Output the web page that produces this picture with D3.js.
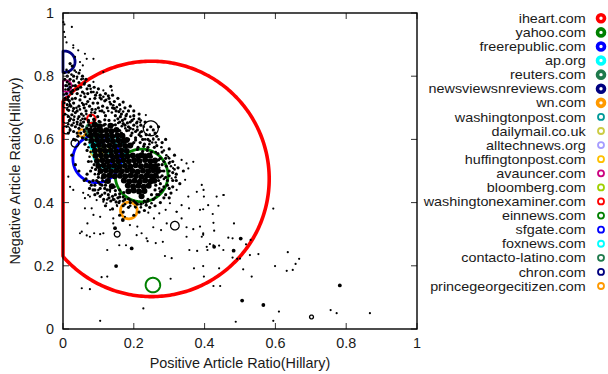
<!DOCTYPE html>
<html>
<head>
<meta charset="utf-8">
<script src="https://cdn.jsdelivr.net/npm/d3@7"></script>
<style>
  body { margin: 0; background: #fff; }
  svg text { font-family: "Liberation Sans", Arial, sans-serif; font-size: 14.4px; fill: #1a1a1a; }
  svg .legend text { font-size: 12.6px; }
</style>
</head>
<body>
<div id="chart"></div>
<script>
// tick values / labels
const xTicks = [0, 0.2, 0.4, 0.6, 0.8, 1];
const yTicks = [0, 0.2, 0.4, 0.6, 0.8, 1];
const tickLabels = ["0", "0.2", "0.4", "0.6", "0.8", "1"];
const xTitle = "Positive Article Ratio(Hillary)";
const yTitle = "Negative Article Ratio(Hillary)";

// top 20 sites: position and circle radius (radius in x-axis units)
const siteNames = ["iheart.com", "yahoo.com", "freerepublic.com", "ap.org", "reuters.com",
  "newsviewsnreviews.com", "wn.com", "washingtonpost.com", "dailymail.co.uk", "alltechnews.org",
  "huffingtonpost.com", "avauncer.com", "bloomberg.com", "washingtonexaminer.com", "einnews.com",
  "sfgate.com", "foxnews.com", "contacto-latino.com", "chron.com", "princegeorgecitizen.com"];
const siteColors = ["#ff0000", "#008000", "#0000ff", "#00ffff", "#1f7a4c",
  "#000080", "#ff9900", "#009999", "#cccc44", "#a69cff",
  "#ffc000", "#cc0080", "#a0d000", "#ff0000", "#008000",
  "#0000ff", "#00ffff", "#1f7a4c", "#000080", "#ff9900"];
const siteX = [0.25, 0.222, 0.095, 0.131, 0.085, 0.004, 0.186, 0.13, 0.09, 0.004,
  0.1, 0.008, 0.12, 0.08, 0.254, 0.15, 0.085, 0.07, 0.11, 0.053];
const siteY = [0.475, 0.486, 0.538, 0.56, 0.63, 0.846, 0.375, 0.58, 0.561, 0.755,
  0.55, 0.769, 0.57, 0.665, 0.139, 0.53, 0.58, 0.61, 0.6, 0.62];
const siteR = [0.3325, 0.0745, 0.067, 0.046, 0.02, 0.03, 0.0235, 0.02, 0.012, 0.014,
  0.012, 0.016, 0.01, 0.012, 0.0205, 0.015, 0.01, 0.01, 0.01, 0.01];

// other sites drawn as open black rings: x,y,radius
const rings = `.248,.635,.021 .316,.327,.012 .153,.300,.008 .008,.712,.011 .008,.665,.012
.009,.630,.011 .034,.588,.011 .702,.038,.0055`;

// the dense core of sites
const coreDots = `
.089,.646 .104,.641 .134,.643
.077,.628 .092,.630 .107,.627 .122,.629 .137,.626 .151,.630
.079,.612 .094,.614 .109,.611 .124,.613 .139,.610 .154,.613 .168,.611
.081,.596 .096,.598 .111,.595 .126,.597 .141,.594 .156,.597 .171,.595 .180,.598
.086,.580 .101,.582 .116,.579 .131,.581 .146,.578 .161,.582 .176,.579 .190,.581
.090,.564 .105,.566 .120,.563 .135,.565 .150,.562 .165,.565 .180,.563
.092,.548 .107,.550 .122,.547 .137,.549 .152,.546 .167,.549 .182,.547 .197,.549 .212,.547 .222,.550 .232,.547 .244,.549
.096,.532 .111,.534 .126,.531 .141,.533 .156,.531 .171,.534 .186,.531 .201,.534 .216,.532 .232,.535 .247,.531 .260,.533
.100,.516 .115,.518 .130,.515 .145,.517 .160,.514 .175,.517 .190,.514 .205,.518 .220,.515 .235,.517 .248,.514 .262,.516
.106,.500 .121,.502 .136,.499 .151,.501 .166,.499 .181,.502 .196,.500 .211,.498 .226,.501 .241,.499 .255,.502 .268,.500
.116,.484 .131,.486 .146,.483 .161,.485 .176,.483 .191,.486 .206,.484 .221,.482 .236,.485 .250,.483 .262,.486
.127,.468 .172,.470 .187,.467 .202,.469 .217,.466 .232,.470 .247,.467 .258,.469
.138,.452 .183,.454 .198,.451 .213,.453 .228,.450 .242,.453
.185,.436 .200,.438 .215,.435 .230,.437
.222,.420`;

// medium dots around the core and along the upper band
const midDots = `
.012,.800 .020,.790 .030,.785 .018,.775 .035,.770 .045,.780 .050,.765 .028,.755 .040,.745 .055,.750
.062,.735 .048,.725 .035,.730 .070,.720 .058,.710 .045,.705 .075,.705 .082,.695 .065,.690 .052,.680
.090,.685 .078,.675 .098,.672 .062,.665 .072,.655 .088,.660 .105,.655 .115,.645 .095,.645 .080,.640
.068,.635 .100,.630 .112,.625 .125,.632 .088,.620 .075,.610 .095,.605 .135,.620 .145,.610 .122,.610
.020,.765 .025,.745 .015,.735 .030,.715 .042,.760 .060,.775 .068,.760 .080,.750 .090,.730 .085,.715
.100,.700 .110,.690 .120,.675 .130,.660 .140,.645 .155,.630 .165,.620 .060,.700 .040,.690 .050,.650
.058,.655 .170,.615 .185,.600 .200,.590 .212,.575 .225,.562 .250,.545 .270,.520 .275,.500 .268,.480
.275,.460 .260,.440 .250,.425 .240,.410 .200,.405 .185,.412 .170,.418 .160,.428 .148,.438 .135,.452
.120,.465 .110,.478 .100,.490 .092,.505 .088,.520 .085,.470 .265,.505 .285,.530 .290,.480 .280,.560
.265,.580 .240,.600 .220,.610 .205,.625 .190,.635 .175,.645 .160,.655 .230,.405 .210,.395 .190,.400
.170,.405 .155,.415 .140,.420 .125,.440 .110,.455 .095,.470 .300,.500 .310,.470 .295,.455 .320,.490
.305,.430 .285,.415 .330,.460 .340,.500 .315,.550 .300,.570 .280,.590 .265,.610 .255,.630 .270,.640
.290,.600 .300,.415 .275,.400 .260,.390 .245,.385 .230,.375 .215,.370 .200,.360 .170,.370 .160,.360
.140,.380 .120,.390 .105,.420 .090,.440 .080,.455 .060,.470 .045,.500 .035,.520 .025,.550 .030,.600
.040,.620 .015,.620 .105,.445 .118,.430 .130,.415 .090,.425 .100,.465 .120,.455 .142,.410 .158,.400
.170,.390 .185,.385 .240,.405 .255,.410 .270,.425 .280,.440 .290,.425 .300,.445 .065,.475 .075,.465
.140,.700 .150,.690 .165,.680 .155,.665 .175,.665 .190,.655 .170,.650 .185,.640 .200,.645 .210,.630
.195,.620 .215,.615 .225,.600 .205,.605 .230,.585 .240,.575 .250,.560 .160,.710 .145,.720 .130,.730
.120,.745 .175,.700 .185,.690 .200,.675 .215,.665 .220,.645 .020,.840 .026,.832
.005,.790 .012,.782 .008,.770 .015,.758 .022,.750 .010,.745 .006,.730 .018,.722 .026,.728 .012,.710
.022,.705 .030,.698 .016,.692 .035,.685 .025,.678 .045,.672 .018,.660 .030,.662 .040,.655 .025,.645
.035,.640 .045,.635 .055,.642 .020,.630 .030,.625 .050,.620 .060,.625 .042,.610 .055,.605 .065,.600
.035,.598 .062,.585 .068,.565 .072,.530 .078,.500 .068,.490
.125,.700 .135,.712 .118,.722 .128,.738 .108,.728 .098,.715 .112,.705 .145,.698 .158,.688 .148,.675
.162,.672 .178,.675 .168,.660 .182,.652 .195,.660 .208,.652 .180,.628 .192,.612 .205,.598 .218,.590
.228,.578 .238,.565 .245,.548 .195,.585 .210,.568 .222,.625 .235,.615 .245,.595 .258,.575 .268,.555
.275,.540 .260,.620 .248,.640 .232,.655 .215,.680 .200,.690 .190,.705 .170,.718 .155,.730 .140,.740
.135,.768 .100,.760 .088,.765 .075,.770 .065,.790 .055,.800 .045,.810 .030,.800 .070,.745 .092,.740
.105,.740 .100,.480 .112,.470 .090,.455 .105,.458 .118,.445 .132,.440 .145,.450 .128,.425 .148,.425
.160,.418 .175,.410 .190,.408 .205,.400 .220,.395 .235,.392 .160,.440 .172,.432 .115,.410 .098,.430
.085,.440 .075,.445 .135,.405 .150,.402 .262,.455 .270,.470 .280,.485 .285,.500 .292,.515 .280,.520
.270,.535 .290,.540 .300,.525 .310,.495 .300,.485 .295,.470 .285,.450 .275,.435 .265,.425 .310,.450
.320,.470 .325,.510 .310,.530
.072,.660 .087,.664 .102,.657 .118,.662 .074,.645 .119,.648 .148,.646 .160,.628`;

// finer speckle filling the envelope of the cluster
const fuzzDots = `
.004,.810 .010,.820 .016,.812 .024,.805 .033,.818 .040,.798 .052,.790 .062,.780 .072,.770 .078,.760
.086,.750 .096,.748 .104,.732 .114,.735 .122,.725 .132,.718 .142,.708 .152,.702 .162,.695 .170,.688
.180,.680 .190,.672 .200,.665 .210,.656 .220,.660 .228,.640 .238,.630 .245,.615 .255,.600 .262,.590
.270,.600 .278,.575 .285,.565 .292,.550 .300,.540 .305,.515 .315,.505 .318,.480 .012,.770 .007,.758
.003,.742 .014,.727 .004,.715 .020,.710 .028,.690 .038,.700 .048,.695 .054,.715 .066,.712 .076,.728
.060,.745 .050,.738 .038,.758 .028,.770 .012,.695 .006,.680 .014,.672 .022,.665 .032,.672 .042,.665
.050,.660 .058,.675 .066,.680 .080,.685 .092,.695 .104,.690 .116,.685 .128,.690 .138,.685 .146,.660
.156,.652 .166,.642 .176,.635 .186,.628 .198,.632 .210,.640 .218,.622 .232,.600 .244,.585 .252,.590
.262,.560 .255,.520 .272,.510 .280,.500 .285,.475 .275,.480 .272,.445 .260,.415 .250,.398 .235,.400
.220,.385 .205,.385 .190,.390 .175,.395 .160,.405 .145,.410 .125,.410 .110,.425 .100,.440 .090,.490
.082,.510 .080,.530 .075,.545 .078,.560 .072,.575 .075,.590 .070,.610 .065,.615 .060,.630 .048,.645
.040,.648 .055,.665 .030,.652 .015,.648 .010,.640`;

// scattered small dots
const smallDots = `
.453,.424 .398,.419 .439,.390 .396,.379 .423,.364 .594,.381 .425,.336 .427,.311 .483,.334 .396,.303
.396,.298 .467,.289 .479,.287 .530,.282 .415,.269 .441,.264 .453,.250 .408,.250 .517,.268 .479,.226
.492,.222 .500,.223 .528,.234 .552,.237 .635,.243 .667,.222 .657,.206 .649,.187 .632,.184 .599,.199
.509,.189 .396,.199 .441,.192 .533,.166 .398,.166 .444,.136 .610,.055 .756,.060 .773,.050 .867,.050
.594,.026 .488,.023 .053,.129 .076,.126 .109,.164 .125,.166 .227,.065 .105,.026 .288,.231 .307,.224
.304,.159 .370,.192 .425,.136 .125,.250 .159,.265 .178,.265 .239,.278 .262,.272 .282,.276 .357,.250
.379,.247 .406,.260 .425,.265 .053,.308 .067,.296 .088,.303 .105,.300 .175,.355 .210,.324 .222,.303
.236,.287 .255,.322 .277,.313 .293,.334 .349,.322 .368,.316 .387,.324 .335,.350 .321,.371 .356,.382
.387,.377 .410,.392 .241,.368 .257,.350 .272,.366 .290,.377 .227,.398 .203,.387 .153,.389 .133,.377
.123,.398 .095,.408 .071,.424 .057,.431 .081,.382 .105,.355 .069,.334 .142,.334 .020,.450 .434,.419
.392,.292 .349,.292 .015,.482 .029,.440 .062,.414 .076,.419 .062,.382 .086,.361 .114,.403 .133,.434
.152,.392 .048,.303 .076,.292 .114,.303 .142,.350 .189,.329 .208,.297 .004,.964 .001,.971 .025,.956
.003,.940 .006,.924 .029,.898 .029,.890 .043,.882 .034,.861 .048,.845 .062,.871 .067,.855 .086,.855
.056,.834 .048,.819 .037,.813 .039,.792 .057,.792 .114,.813 .086,.782 .114,.755 .138,.755 .010,.907
.378,.434 .392,.456 .345,.472 .354,.419 .307,.477 .321,.440 .302,.398 .335,.392 .321,.371 .234,.677
.218,.654 .255,.603 .297,.545 .335,.535 .349,.524 .368,.529 .354,.508 .316,.519 .302,.529 .311,.509
.397,.440 .454,.424`;

// larger isolated dots
const bigDots = `.150,.199 .169,.345 .147,.319 .194,.255 .502,.286 .427,.260 .482,.248 .782,.138
.506,.090 .566,.076`;

const parse = s => s.trim().split(/\s+/).map(p => p.split(",").map(Number));

const width = 608;
const height = 374;
const margin = { top: 13, right: 191, bottom: 45, left: 63 };
const plotW = width - margin.left - margin.right;
const plotH = height - margin.top - margin.bottom;

const x = d3.scaleLinear([0, 1], [0, plotW]);
const y = d3.scaleLinear([0, 1], [plotH, 0]);

const svg = d3.select("#chart").append("svg")
  .attr("width", width)
  .attr("height", height);

const g = svg.append("g")
  .attr("transform", `translate(${margin.left},${margin.top})`);

// gnuplot clips circles to the border, so the cut part runs along the edge
function clippedCircle(cx, cy, r) {
  const pts = d3.range(0, 361, 1).map(a => {
    const t = a * Math.PI / 180;
    return [Math.max(0, Math.min(plotW, cx + r * Math.cos(t))),
            Math.max(0, Math.min(plotH, cy + r * Math.sin(t)))];
  });
  return d3.line()(pts) + "Z";
}

const lineW = i => i === 0 ? 3.6 : (i < 7 ? 2.8 : 2);

// colored site circles
g.append("g").selectAll("path")
  .data(siteNames)
  .join("path")
  .attr("d", (d, i) => clippedCircle(x(siteX[i]), y(siteY[i]), x(siteR[i]) - x(0)))
  .attr("fill", "none")
  .attr("stroke", (d, i) => siteColors[i])
  .attr("stroke-width", (d, i) => lineW(i))
  .attr("stroke-linejoin", "round");

// black sites
const dotLayer = g.append("g").attr("fill", "#000");
function drawDots(cls, str, r) {
  dotLayer.selectAll("circle." + cls)
    .data(parse(str))
    .join("circle").attr("class", cls)
    .attr("cx", d => x(d[0])).attr("cy", d => y(d[1])).attr("r", r);
}
drawDots("core", coreDots, 3);
drawDots("mid", midDots, 1.6);
drawDots("fuzz", fuzzDots, 1.3);
drawDots("small", smallDots, 1.1);
drawDots("big", bigDots, 1.9);

g.append("g").selectAll("path")
  .data(parse(rings))
  .join("path")
  .attr("d", d => clippedCircle(x(d[0]), y(d[1]), x(d[2]) - x(0)))
  .attr("fill", "none")
  .attr("stroke", "#000")
  .attr("stroke-width", 1.3);

// border and ticks (inward, mirrored)
const tickLen = 6;
const ticks = g.append("g").attr("stroke", "#333").attr("stroke-width", 1);
xTicks.forEach(t => {
  ticks.append("line").attr("x1", x(t)).attr("x2", x(t)).attr("y1", plotH).attr("y2", plotH - tickLen);
  ticks.append("line").attr("x1", x(t)).attr("x2", x(t)).attr("y1", 0).attr("y2", tickLen);
});
yTicks.forEach(t => {
  ticks.append("line").attr("x1", 0).attr("x2", tickLen).attr("y1", y(t)).attr("y2", y(t));
  ticks.append("line").attr("x1", plotW).attr("x2", plotW - tickLen).attr("y1", y(t)).attr("y2", y(t));
});

g.append("rect")
  .attr("width", plotW).attr("height", plotH)
  .attr("fill", "none").attr("stroke", "#000").attr("stroke-width", 1.4);

g.append("g").selectAll("text")
  .data(xTicks)
  .join("text")
  .attr("x", d => x(d)).attr("y", plotH + 19)
  .attr("text-anchor", "middle")
  .text((d, i) => tickLabels[i]);

g.append("g").selectAll("text")
  .data(yTicks)
  .join("text")
  .attr("x", -9).attr("y", d => y(d)).attr("dy", "0.35em")
  .attr("text-anchor", "end")
  .text((d, i) => tickLabels[i]);

g.append("text")
  .attr("x", plotW / 2).attr("y", plotH + 38.5)
  .attr("text-anchor", "middle")
  .text(xTitle);

g.append("text")
  .attr("transform", `translate(${-43},${plotH / 2}) rotate(-90)`)
  .attr("text-anchor", "middle")
  .text(yTitle);

// legend
const legend = svg.append("g").attr("class", "legend");
const rowH = 14.09;
siteNames.forEach((name, i) => {
  const ly = 18.3 + i * rowH;
  legend.append("text")
    .attr("transform", `translate(585.7,${ly + 4.6}) scale(1.14,1)`)
    .attr("text-anchor", "end")
    .text(name);
  legend.append("circle")
    .attr("cx", 601).attr("cy", ly)
    .attr("r", i < 7 ? 3.5 : 3)
    .attr("fill", "none")
    .attr("stroke", siteColors[i])
    .attr("stroke-width", i < 7 ? 3.6 : 1.8);
});
</script>
</body>
</html>
